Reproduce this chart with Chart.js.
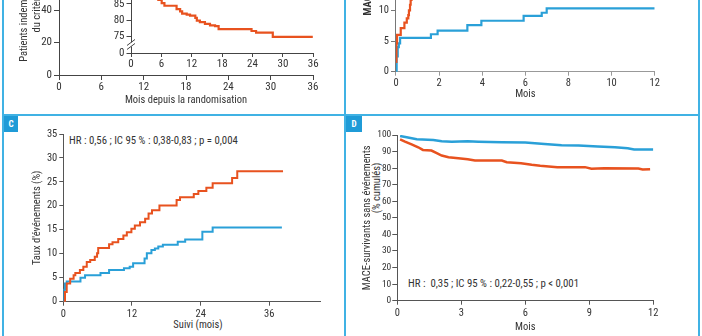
<!DOCTYPE html>
<html><head><meta charset="utf-8">
<script src="https://cdn.jsdelivr.net/npm/chart.js@4.4.1/dist/chart.umd.min.js"></script>
<style>
html,body{margin:0;padding:0;background:#fff;}
#page{position:relative;width:702px;height:336px;overflow:hidden;background:#fff;}
canvas{position:absolute;}
.ln{position:absolute;background:#40b2e4;}
.tag{position:absolute;background:#1f9bd7;color:#fff;font:bold 9px "Roboto Condensed","DejaVu Sans Condensed",Roboto,sans-serif;display:flex;align-items:center;justify-content:center;}
.note{position:absolute;font:10.8px "Roboto Condensed","DejaVu Sans Condensed",Roboto,sans-serif;font-stretch:condensed;color:#333;white-space:pre;line-height:12px;}
.rot{position:absolute;font:10.5px "Roboto Condensed","DejaVu Sans Condensed",Roboto,sans-serif;font-stretch:condensed;color:#333;white-space:pre;line-height:12px;transform:translate(-50%,-50%) rotate(-90deg);}
.ctr{position:absolute;font:10.5px "Roboto Condensed","DejaVu Sans Condensed",Roboto,sans-serif;font-stretch:condensed;color:#333;white-space:pre;line-height:12px;transform:translate(-50%,-50%);}
</style></head><body>
<div id="page">
<div class="ln" style="left:2px;top:0;width:2px;height:336px"></div>
<div class="ln" style="left:344px;top:0;width:2px;height:336px"></div>
<div class="ln" style="left:698px;top:0;width:2px;height:336px"></div>
<div class="ln" style="left:2px;top:114px;width:698px;height:2px"></div>
<div class="tag" style="left:4px;top:116px;width:14px;height:16px">C</div>
<div class="tag" style="left:346px;top:116px;width:16px;height:16px">D</div>
<div class="note" style="left:69px;top:135px">HR : 0,56 ; IC 95 % : 0,38-0,83 ; p = 0,004</div>
<div class="note" style="left:408px;top:278px">HR :  0,35 ; IC 95 % : 0,22-0,55 ; p &lt; 0,001</div>
<div class="rot" style="left:377px;top:188px">(% cumulés)</div>
<div class="ctr" style="left:198px;top:325px">Suivi (mois)</div>
</div>
<script>
// ---------- DATA ----------
// Panel A (main axes, curves lie above the visible crop)
const A_xTicks = [0, 6, 12, 18, 24, 30, 36];
const A_yTicks = [0, 20, 40, 60, 80, 100];
// Panel A inset (broken y axis: bottom tick stands for 0)
const Ai_xTicks = [0, 6, 12, 18, 24, 30, 36];
const Ai_yTicks = [70, 75, 80, 85, 90, 95, 100];
const Ai_yLabels = ['0', '75', '80', '85', '90', '95', '100'];
const Ai_redMonths = [5.2, 5.4, 6.06, 6.6, 9.0, 9.7, 10.1, 11.0, 11.66, 12.7, 13.0, 13.6, 14.6, 15.6, 16.6, 17.3, 23.8, 24.7, 28.0, 35.9];
const Ai_red       = [87.0, 86.2, 85.2, 84.4, 83.4, 82.7, 82.0, 81.7, 81.4, 80.7, 79.9, 79.4, 78.9, 78.4, 78.2, 77.3, 76.7, 76.2, 74.9, 74.9];
// Panel B
const B_xTicks = [0, 2, 4, 6, 8, 10, 12];
const B_yTicks = [0, 5, 10, 15, 20, 25];
const B_blueMonths = [0, 0.03, 0.08, 0.13, 0.19, 1.62, 1.93, 3.31, 3.96, 5.92, 6.76, 6.99, 12];
const B_blue       = [0, 2.5, 4.0, 4.6, 5.5, 6.1, 6.7, 7.6, 8.3, 9.1, 9.6, 10.3, 10.3];
const B_redMonths = [0, 0.02, 0.05, 0.22, 0.39, 0.5, 0.57, 0.6, 0.65, 0.68, 0.72, 0.78];
const B_red       = [1.6, 4.6, 6.0, 7.1, 8.0, 8.7, 9.2, 10.0, 10.9, 11.7, 12.8, 14.0];
// Panel C
const C_xTicks = [0, 12, 24, 36];
const C_yTicks = [0, 5, 10, 15, 20, 25, 30, 35];
const C_redMonths = [0, 0.3, 0.6, 1.2, 1.8, 2.1, 2.9, 3.5, 4.1, 4.7, 5.5, 5.9, 6.1, 8.0, 8.6, 9.6, 10.5, 11.1, 11.9, 12.5, 13.4, 14.3, 14.9, 15.5, 16.8, 19.8, 20.4, 22.8, 23.6, 25.0, 26.1, 29.5, 30.4, 38.4];
const C_red       = [0, 2.0, 3.8, 4.8, 5.5, 6.0, 6.6, 7.3, 8.3, 8.7, 9.4, 10.1, 11.2, 12.0, 12.4, 13.1, 13.8, 14.5, 15.2, 15.9, 16.6, 17.3, 18.4, 19.1, 20.1, 21.2, 21.8, 22.5, 23.1, 23.8, 24.7, 25.8, 27.2, 27.2];
const C_blueMonths = [0, 0.15, 0.3, 0.6, 3.0, 3.8, 6.5, 8.0, 10.6, 11.6, 12.2, 14.2, 14.6, 15.4, 16.0, 16.6, 17.4, 20.0, 21.3, 24.3, 26.1, 38.2];
const C_blue       = [0, 2.5, 3.8, 4.2, 5.0, 5.5, 6.0, 6.6, 7.0, 7.3, 8.0, 9.0, 10.1, 10.8, 11.1, 11.5, 11.9, 12.5, 13.0, 14.6, 15.5, 15.5];
// Panel D
const D_xTicks = [0, 3, 6, 9, 12];
const D_yTicks = [0, 10, 20, 30, 40, 50, 60, 70, 80, 90, 100];
const D_blueMonths = [0.13, 0.44, 0.91, 1.69, 2.08, 2.55, 3.3, 3.8, 4.9, 6.0, 6.9, 7.7, 8.5, 9.4, 10.2, 10.8, 11.1, 12.0];
const D_blue       = [99.4, 98.6, 97.4, 97.0, 96.2, 96.0, 96.2, 96.0, 95.6, 95.4, 94.6, 93.8, 93.6, 93.0, 92.6, 92.0, 91.2, 91.2];
const D_redMonths = [0.13, 0.36, 0.67, 0.98, 1.2, 1.6, 1.85, 2.08, 2.4, 2.86, 3.3, 3.64, 4.9, 5.13, 5.8, 6.3, 6.7, 7.5, 8.8, 9.1, 9.7, 11.3, 11.5, 11.85];
const D_red       = [97.4, 96.0, 94.4, 92.6, 91.0, 90.6, 89.0, 87.6, 86.6, 86.0, 85.3, 84.6, 84.6, 83.6, 83.0, 82.0, 81.4, 80.6, 80.6, 79.6, 80.0, 79.8, 79.2, 79.4];

// ---------- STYLE ----------
const RED = '#e8521f', BLUE = '#2aa0d8';
const FONT = '"Roboto Condensed", "DejaVu Sans Condensed", Roboto, sans-serif';
const page = document.getElementById('page');
const pts = (xs, ys) => xs.map((x, i) => ({x, y: ys[i]}));

function axis(o) {
  return {
    type: 'linear', min: o.min, max: o.max,
    afterBuildTicks: s => { s.ticks = o.ticks.map(v => ({value: v})); },
    afterFit: s => { if (o.horiz) s.height = o.size; else s.width = o.size; },
    grid: {display: true, drawOnChartArea: false, drawTicks: true, tickLength: o.tl, color: o.color, lineWidth: 1},
    border: {display: true, color: o.color, width: 1},
    ticks: {color: '#333', font: {family: FONT, size: o.fs || 10.5, style: 'condensed'}, padding: o.pad, maxRotation: 0, autoSkip: false,
      callback: (v, i) => o.labels ? o.labels[i] : String(v)},
    title: o.title ? {display: true, text: o.title, color: '#333',
      font: {family: FONT, size: 10.5, style: 'condensed', weight: o.bold ? 'bold' : 'normal', lineHeight: o.lh || 1.2}, padding: 0} : {display: false}
  };
}

function build(box, area, xo, yo, datasets, plugins) {
  const cv = document.createElement('canvas');
  cv.width = box.w; cv.height = box.h;
  cv.style.left = box.x + 'px'; cv.style.top = box.y + 'px';
  cv.style.width = box.w + 'px'; cv.style.height = box.h + 'px';
  page.appendChild(cv);
  const padding = {
    left: area.l - yo.size - box.x,
    top: area.t - box.y,
    right: box.x + box.w - area.r,
    bottom: box.y + box.h - area.b - xo.size
  };
  xo.horiz = true;
  return new Chart(cv, {
    type: 'line',
    data: {datasets},
    options: {
      responsive: false, animation: false, devicePixelRatio: 1,
      layout: {padding},
      plugins: {legend: {display: false}, tooltip: {enabled: false}},
      elements: {point: {radius: 0}, line: {tension: 0}},
      scales: {x: axis(xo), y: axis(yo)}
    },
    plugins: plugins || []
  });
}
const line = (data, color, w, stepped) => ({data, borderColor: color, borderWidth: w, stepped, fill: false, pointRadius: 0});

// Panel A main
build({x: 4, y: -130, w: 340, h: 244}, {l: 59, r: 313, t: -87.5, b: 75},
  {min: 0, max: 36, ticks: A_xTicks, tl: 5, pad: 1, size: 32, color: '#444', fs: 11, title: 'Mois depuis la randomisation'},
  {min: 0, max: 100, ticks: A_yTicks, tl: 5, pad: 2, size: 41.5, color: '#444', fs: 11,
   title: ["Patients indemnes d'événements", 'du critère principal'], lh: 1.25},
  []);

// Panel A inset with axis break
const breakMark = {id: 'brk', afterDraw(c) {
  const ctx = c.ctx, y = c.scales.y, l = c.chartArea.left;
  const p = y.getPixelForValue(72.6);
  ctx.save();
  ctx.fillStyle = '#fff'; ctx.fillRect(l - 2, p - 2, 4, 4);
  ctx.strokeStyle = '#444'; ctx.lineWidth = 1;
  ctx.beginPath();
  ctx.moveTo(l - 4, p + 1); ctx.lineTo(l + 4, p - 5);
  ctx.moveTo(l - 4, p + 5); ctx.lineTo(l + 4, p - 1);
  ctx.stroke(); ctx.restore();
}};
build({x: 100, y: -80, w: 240, h: 190}, {l: 131, r: 313.3, t: -45.4, b: 53},
  {min: 0, max: 36, ticks: Ai_xTicks, tl: 4, pad: 1, size: 20, color: '#444', fs: 11},
  {min: 70, max: 100, ticks: Ai_yTicks, labels: Ai_yLabels, tl: 4.5, pad: 2, size: 25, color: '#444', fs: 11},
  [line(pts(Ai_redMonths, Ai_red), RED, 2.2, true)], [breakMark]);

// Panel B
build({x: 346, y: -130, w: 352, h: 244}, {l: 396, r: 654.7, t: -81.8, b: 71.7},
  {min: 0, max: 12, ticks: B_xTicks, tl: 4, pad: 1, size: 28.6, color: '#999', title: 'Mois'},
  {min: 0, max: 25, ticks: B_yTicks, tl: 5, pad: 2, size: 34.3, color: '#777', title: 'MACE (%)', bold: true},
  [line(pts(B_redMonths, B_red), RED, 2.2, true), line(pts(B_blueMonths, B_blue), BLUE, 2.2, true)]);

// Panel C (x-axis title placed as HTML text above)
build({x: 4, y: 118, w: 340, h: 218}, {l: 63.3, r: 320.8, t: 134, b: 301.7},
  {min: 0, max: 45, ticks: C_xTicks, tl: 4, pad: 2, size: 29.3, color: '#555'},
  {min: 0, max: 35, ticks: C_yTicks, tl: 4, pad: 2, size: 32.6, color: '#555', title: "Taux d'événements (%)"},
  [line(pts(C_redMonths, C_red), RED, 2, true), line(pts(C_blueMonths, C_blue), BLUE, 2, true)]);

// Panel D
build({x: 346, y: 118, w: 352, h: 218}, {l: 397.3, r: 653.3, t: 135, b: 300.7},
  {min: 0, max: 12, ticks: D_xTicks, tl: 4, pad: 2, size: 32.6, color: '#555', title: 'Mois'},
  {min: 0, max: 100, ticks: D_yTicks, tl: 5, pad: 1, size: 36.3, color: '#555', fs: 9.5,
   title: 'MACE-survivants sans événements'},
  [line(pts(D_redMonths, D_red), RED, 2.5, false), line(pts(D_blueMonths, D_blue), BLUE, 2.5, false)]);
</script>
</body></html>
